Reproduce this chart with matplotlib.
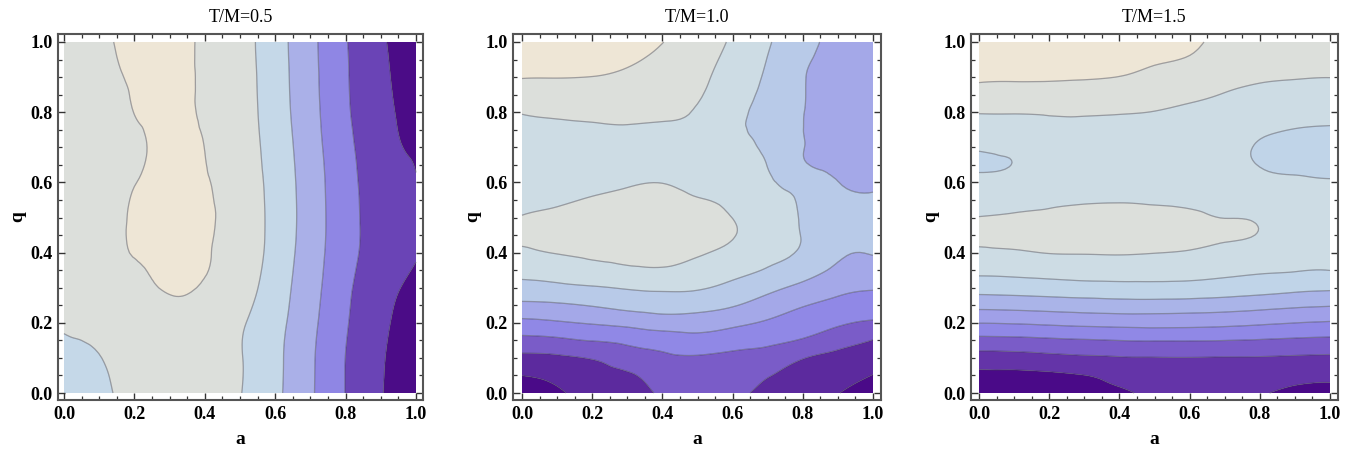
import numpy as np
import matplotlib
matplotlib.use("Agg")
import matplotlib.pyplot as plt
import matplotlib.tri as mtri
from matplotlib.ticker import MultipleLocator

titles = ["T/M=0.5", "T/M=1.0", "T/M=1.5"]

# ---- Panel 1 (T/M=0.5): rows are q = 0.0 .. 1.0 (step 0.1), columns a = 0.0 .. 1.0 (step 0.05)
a_p1 = np.linspace(0, 1, 21)
q_p1 = np.linspace(0, 1, 11)
z_p1_rows = [
    [4.80, 4.86, 4.93, 5.02, 5.09, 5.16, 5.22, 5.21, 5.19, 5.18, 5.03, 4.66, 4.21, 3.69, 3.13, 2.55, 1.98, 1.52, 1.06, 0.68, 0.30],
    [4.92, 4.93, 4.99, 5.06, 5.14, 5.22, 5.30, 5.28, 5.27, 5.25, 5.05, 4.68, 4.23, 3.72, 3.15, 2.57, 1.99, 1.55, 1.11, 0.72, 0.35],
    [5.05, 5.11, 5.17, 5.23, 5.28, 5.34, 5.40, 5.38, 5.37, 5.35, 5.11, 4.76, 4.31, 3.82, 3.25, 2.67, 2.09, 1.64, 1.22, 0.84, 0.50],
    [5.35, 5.44, 5.52, 5.61, 5.70, 5.90, 6.12, 6.12, 5.90, 5.75, 5.38, 5.01, 4.49, 3.95, 3.37, 2.79, 2.20, 1.76, 1.40, 1.04, 0.80],
    [5.60, 5.71, 5.81, 5.92, 6.02, 6.11, 6.20, 6.12, 6.06, 5.82, 5.47, 5.14, 4.66, 4.07, 3.48, 2.90, 2.36, 1.91, 1.63, 1.35, 1.07],
    [5.60, 5.71, 5.83, 5.93, 6.04, 6.12, 6.20, 6.12, 6.06, 5.90, 5.52, 5.17, 4.71, 4.13, 3.53, 2.93, 2.39, 1.93, 1.69, 1.44, 1.20],
    [5.55, 5.66, 5.77, 5.88, 5.99, 6.07, 6.15, 6.09, 6.04, 5.82, 5.45, 5.13, 4.67, 4.10, 3.50, 2.90, 2.34, 1.89, 1.60, 1.32, 1.03],
    [5.50, 5.61, 5.72, 5.83, 5.94, 6.03, 6.11, 6.07, 5.995, 5.69, 5.38, 5.07, 4.58, 4.02, 3.41, 2.82, 2.25, 1.80, 1.43, 1.07, 0.88],
    [5.45, 5.59, 5.73, 5.87, 6.005, 6.06, 6.12, 6.05, 5.93, 5.63, 5.32, 5.01, 4.48, 3.93, 3.33, 2.73, 2.14, 1.70, 1.31, 0.93, 0.60],
    [5.50, 5.65, 5.81, 5.96, 6.05, 6.11, 6.12, 6.05, 5.91, 5.60, 5.30, 4.98, 4.44, 3.89, 3.29, 2.69, 2.10, 1.65, 1.23, 0.83, 0.45],
    [5.55, 5.72, 5.89, 6.02, 6.10, 6.17, 6.12, 6.05, 5.91, 5.60, 5.28, 4.95, 4.41, 3.86, 3.26, 2.66, 2.06, 1.60, 1.15, 0.74, 0.35],
]
colors_p1 = ["#4b0c87", "#6a44b6", "#8f86e4", "#aab0e8", "#c5d8e8", "#dcdfdb", "#eee6d6"]

# ---- Panel 2 (T/M=1.0): columns are a = 0.0 .. 1.0 (step 0.1), each listing q = 0.0 .. 1.0 (step 0.05)
a_p2 = np.linspace(0, 1, 11)
q_p2 = np.linspace(0, 1, 21)
z_p2_cols = [
    [0.50, 1.01, 1.76, 2.71, 3.75, 4.78, 5.68, 6.32, 6.82, 7.19, 7.03, 6.84, 6.67, 6.50, 6.67, 6.84, 7.04, 7.55, 8.03, 8.32, 8.60],
    [0.85, 1.24, 1.84, 2.82, 3.89, 4.87, 5.78, 6.47, 7.04, 7.30, 7.15, 6.93, 6.76, 6.58, 6.69, 6.87, 7.12, 7.57, 8.02, 8.28, 8.55],
    [1.35, 1.64, 2.06, 3.04, 4.08, 5.05, 5.91, 6.71, 7.16, 7.40, 7.27, 7.04, 6.85, 6.67, 6.71, 6.90, 7.18, 7.59, 7.99, 8.25, 8.50],
    [1.35, 1.85, 2.48, 3.24, 4.27, 5.29, 6.08, 6.87, 7.19, 7.41, 7.37, 7.15, 6.94, 6.73, 6.69, 6.92, 7.20, 7.52, 7.84, 8.13, 8.40],
    [2.20, 2.52, 2.84, 3.47, 4.50, 5.42, 6.17, 6.92, 7.19, 7.40, 7.40, 7.19, 6.99, 6.77, 6.65, 6.88, 7.11, 7.33, 7.56, 7.79, 8.02],
    [2.15, 2.53, 2.91, 3.63, 4.50, 5.35, 6.10, 6.68, 7.08, 7.27, 7.23, 7.03, 6.86, 6.70, 6.66, 6.80, 6.94, 7.08, 7.20, 7.33, 7.45],
    [2.20, 2.50, 2.82, 3.41, 4.24, 5.07, 5.75, 6.29, 6.73, 7.05, 6.99, 6.82, 6.63, 6.45, 6.26, 6.20, 6.34, 6.47, 6.61, 6.75, 6.89],
    [1.70, 2.06, 2.61, 3.20, 3.87, 4.57, 5.27, 5.93, 6.20, 6.41, 6.41, 6.26, 6.12, 5.98, 5.85, 5.73, 5.60, 5.72, 5.85, 5.97, 6.10],
    [1.50, 1.76, 2.04, 2.91, 3.50, 4.06, 4.75, 5.45, 5.90, 5.97, 5.93, 5.88, 5.60, 5.10, 5.03, 5.01, 5.02, 5.04, 5.05, 5.15, 5.30],
    [1.03, 1.41, 1.79, 2.37, 3.15, 3.72, 4.28, 4.83, 5.15, 5.37, 5.42, 5.21, 5.01, 4.85, 4.80, 4.75, 4.70, 4.70, 4.70, 4.75, 4.78],
    [0.60, 0.98, 1.48, 1.98, 2.87, 3.51, 4.08, 4.60, 5.05, 5.27, 5.31, 5.09, 4.94, 4.84, 4.75, 4.65, 4.55, 4.56, 4.57, 4.59, 4.60],
]
colors_p2 = ["#4a0a88", "#5c2a9e", "#7a5cc8", "#9088e6", "#a4a8e8", "#b8cae8", "#cddce4", "#dcdfdb", "#eee6d6"]

# ---- Panel 3 (T/M=1.5): same layout as panel 2
a_p3 = np.linspace(0, 1, 11)
q_p3 = np.linspace(0, 1, 21)
z_p3_cols = [
    [0.50, 0.75, 1.60, 2.70, 4.03, 5.30, 6.40, 7.23, 7.80, 8.23, 8.02, 7.57, 7.21, 6.93, 7.05, 7.51, 8.05, 8.68, 9.10, 9.30, 9.50],
    [0.55, 0.78, 1.63, 2.74, 4.08, 5.35, 6.46, 7.29, 7.90, 8.28, 8.10, 7.71, 7.30, 7.02, 7.15, 7.45, 8.07, 8.67, 9.08, 9.27, 9.45],
    [0.60, 0.85, 1.74, 2.84, 4.18, 5.43, 6.55, 7.39, 8.03, 8.34, 8.16, 7.86, 7.57, 7.41, 7.35, 7.70, 8.09, 8.66, 9.07, 9.23, 9.40],
    [0.65, 0.99, 1.85, 2.93, 4.28, 5.51, 6.64, 7.45, 8.05, 8.36, 8.23, 7.94, 7.69, 7.49, 7.46, 7.69, 8.10, 8.63, 9.04, 9.20, 9.35],
    [0.80, 1.31, 1.94, 3.01, 4.34, 5.58, 6.69, 7.47, 8.07, 8.36, 8.24, 7.96, 7.73, 7.50, 7.47, 7.62, 8.06, 8.53, 8.99, 9.12, 9.25],
    [1.30, 1.64, 1.97, 3.05, 4.36, 5.59, 6.71, 7.43, 8.02, 8.31, 8.20, 7.93, 7.71, 7.49, 7.45, 7.54, 7.97, 8.39, 8.80, 9.05, 9.15],
    [1.30, 1.64, 1.98, 3.05, 4.33, 5.55, 6.67, 7.38, 7.93, 8.22, 8.12, 7.88, 7.66, 7.44, 7.42, 7.45, 7.80, 8.15, 8.50, 8.93, 9.10],
    [1.35, 1.66, 1.96, 3.01, 4.26, 5.47, 6.55, 7.25, 7.75, 8.09, 7.99, 7.80, 7.60, 7.39, 7.35, 7.35, 7.66, 7.97, 8.25, 8.52, 8.80],
    [1.10, 1.52, 1.95, 2.94, 4.14, 5.33, 6.42, 7.12, 7.60, 7.96, 7.90, 7.60, 7.25, 6.97, 6.91, 7.16, 7.49, 7.81, 8.10, 8.35, 8.60],
    [0.80, 1.28, 1.89, 2.85, 4.01, 5.17, 6.28, 7.04, 7.28, 7.53, 7.46, 7.27, 7.08, 6.89, 6.80, 6.98, 7.33, 7.70, 8.04, 8.27, 8.50],
    [0.75, 1.19, 1.84, 2.79, 3.91, 5.07, 6.17, 7.01, 7.22, 7.44, 7.38, 7.21, 7.04, 6.85, 6.74, 6.93, 7.25, 7.64, 8.01, 8.23, 8.45],
]
colors_p3 = ["#4a0a88", "#6434a8", "#7a5cc8", "#9088e6", "#a0a0e8", "#aab4e8", "#c0d4e8", "#cddce4", "#dcdfdb", "#eee6d6"]

tick_vals = [0.0, 0.2, 0.4, 0.6, 0.8, 1.0]
tick_labels = ["0.0", "0.2", "0.4", "0.6", "0.8", "1.0"]

panels = [
    (a_p1, q_p1, np.array(z_p1_rows), colors_p1),
    (a_p2, q_p2, np.array(z_p2_cols).T, colors_p2),
    (a_p3, q_p3, np.array(z_p3_cols).T, colors_p3),
]

W, H = 1353, 451
frames = [(58, 423, 64, 416), (513, 881, 522, 873), (971, 1338, 979, 1330)]
y_frame = (34, 400)
y_data = (42, 393)

serif = "Liberation Serif"
fig = plt.figure(figsize=(W / 100, H / 100), dpi=100)


def grid_triangulation(av, qv):
    A, Q = np.meshgrid(av, qv)
    nq, na = A.shape
    tris = []
    for j in range(nq - 1):
        for k in range(na - 1):
            p00 = j * na + k
            p01 = p00 + 1
            p10 = p00 + na
            p11 = p10 + 1
            tris.append([p00, p01, p11])
            tris.append([p00, p11, p10])
    return mtri.Triangulation(A.ravel(), Q.ravel(), triangles=np.array(tris))


for i, (av, qv, Z, cols) in enumerate(panels):
    fl, fr, dl, dr = frames[i]
    fh = y_frame[1] - y_frame[0]
    ax = fig.add_axes([fl / W, (H - y_frame[1]) / H, (fr - fl) / W, fh / H])
    tri = grid_triangulation(av, qv)
    refiner = mtri.UniformTriRefiner(tri)
    interp = mtri.CubicTriInterpolator(tri, Z.ravel(), kind="min_E")
    tri_f, z_f = refiner.refine_field(Z.ravel(), triinterpolator=interp, subdiv=3)
    nlev = len(cols) - 1
    lev_lines = np.arange(1, nlev + 1)
    levels = np.concatenate([[-100], lev_lines, [100]])
    ax.tricontourf(tri_f, z_f, levels=levels, colors=cols, antialiased=True)
    ax.tricontour(tri_f, z_f, levels=lev_lines, colors=[(0.25, 0.25, 0.3, 0.45)], linewidths=0.9)
    sx = (dr - dl)
    ax.set_xlim(-(dl - fl) / sx, 1 + (fr - dr) / sx)
    sy = (y_data[1] - y_data[0])
    ax.set_ylim(-(y_frame[1] - y_data[1]) / sy, 1 + (y_data[0] - y_frame[0]) / sy)
    ax.set_xticks(tick_vals)
    ax.set_xticklabels(tick_labels)
    ax.set_yticks(tick_vals)
    ax.set_yticklabels(tick_labels)
    ax.xaxis.set_minor_locator(MultipleLocator(0.05))
    ax.yaxis.set_minor_locator(MultipleLocator(0.05))
    ax.tick_params(which="both", direction="in", top=True, right=True, colors="#333333",
                   labelcolor="black")
    ax.tick_params(which="major", length=5, width=1.0, labelsize=13, pad=4)
    ax.tick_params(which="minor", length=2.8, width=0.9)
    for lab in ax.get_xticklabels() + ax.get_yticklabels():
        lab.set_fontfamily(serif)
        lab.set_fontweight("bold")
    for sp in ax.spines.values():
        sp.set_color("#555555")
        sp.set_linewidth(1.5)
    ax.text(0.5, 1 + (y_frame[0] - 17) / fh, titles[i], transform=ax.transAxes,
            ha="center", va="center", fontfamily=serif, fontsize=13)
    ax.set_xlabel("a", fontfamily=serif, fontsize=14, fontweight="bold", va="center")
    ax.set_ylabel("q", fontfamily=serif, fontsize=14, fontweight="bold", va="center")
    ax.xaxis.set_label_coords(0.5, -(440 - y_frame[1]) / fh)
    ax.yaxis.set_label_coords(-(fl - (18 + (fl - 58))) / (fr - fl), 0.5)

fig.savefig("out.png", dpi=100)
